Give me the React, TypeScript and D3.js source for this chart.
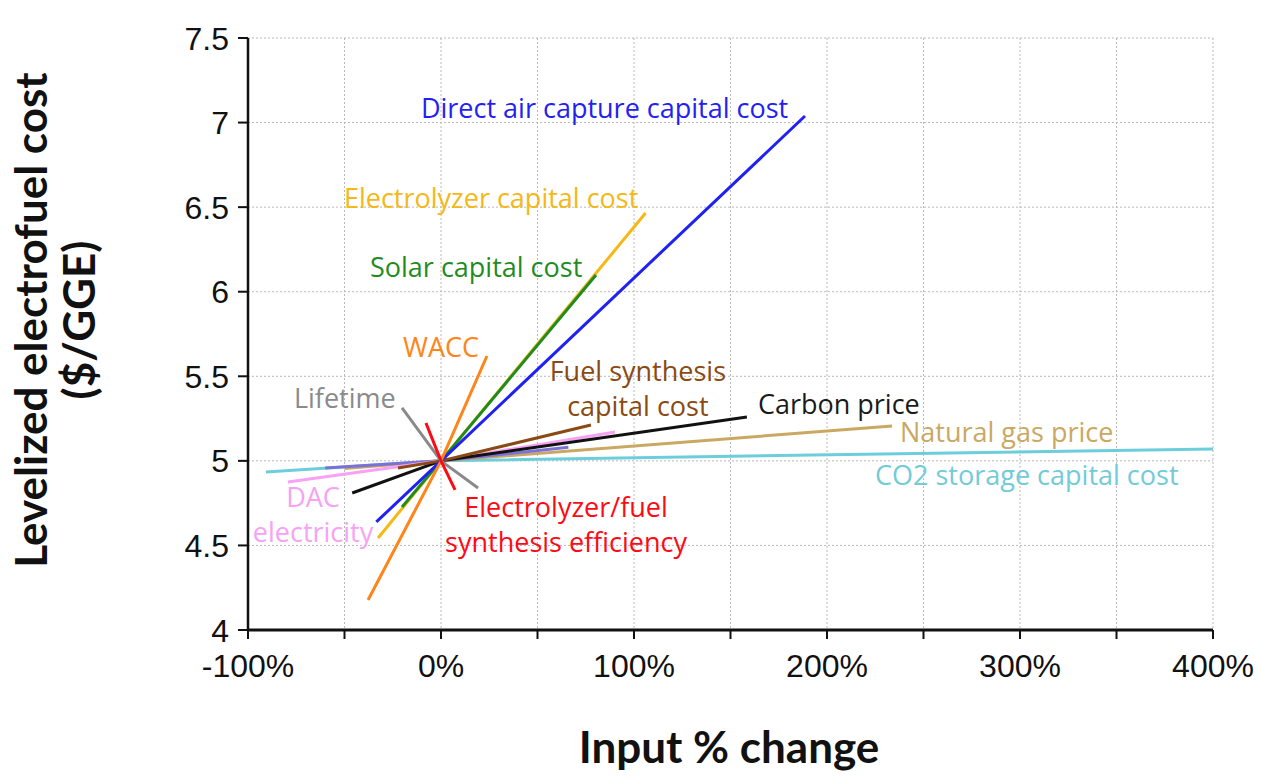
import React from "react";
import * as d3 from "d3";

// Sensitivity of levelized electrofuel cost ($/GGE) to % change of each input.
// Each series: [input % change, levelized cost]
const co2Storage: [number, number][] = [[-90.7, 4.934], [0, 5], [264, 5.047], [400, 5.07]];
const naturalGas: [number, number][] = [[-50, 4.955], [0, 5], [233.7, 5.206]];
const otherInput: [number, number][] = [[-60, 4.958], [0, 5], [66, 5.08]];
const dacElectricity: [number, number][] = [[-79.3, 4.875], [0, 5], [90.2, 5.171]];
const carbonPrice: [number, number][] = [[-46, 4.81], [0, 5], [158.5, 5.259]];
const fuelSynthesisCapital: [number, number][] = [[-22.3, 4.958], [0, 5], [77.7, 5.212]];
const electrolyzerCapital: [number, number][] = [[-32.6, 4.544], [0, 5], [106, 6.465]];
const solarCapital: [number, number][] = [[-20.2, 4.727], [0, 5], [80.3, 6.099]];
const dacCapital: [number, number][] = [[-33.5, 4.639], [0, 5], [188.6, 7.039]];
const wacc: [number, number][] = [[-37.8, 4.177], [0, 5], [23.8, 5.62]];
const lifetime: [number, number][] = [[-20.2, 5.313], [0, 5], [19.2, 4.84]];
const efficiency: [number, number][] = [[-7.8, 5.224], [0, 5], [7.3, 4.828]];

const xTicks = [-100, 0, 100, 200, 300, 400];
const xMinorTicks = [-100, -50, 0, 50, 100, 150, 200, 250, 300, 350, 400];
const yTicks = [4, 4.5, 5, 5.5, 6, 6.5, 7, 7.5];

const series = [
  { key: "co2", data: co2Storage, color: "#6ccedb" },
  { key: "gas", data: naturalGas, color: "#caa862" },
  { key: "other", data: otherInput, color: "#7b72d8" },
  { key: "dacElec", data: dacElectricity, color: "#f7a2f4" },
  { key: "carbon", data: carbonPrice, color: "#111111" },
  { key: "fuelSyn", data: fuelSynthesisCapital, color: "#8a4a14" },
  { key: "electrolyzer", data: electrolyzerCapital, color: "#f5b816" },
  { key: "solar", data: solarCapital, color: "#1f8c1f" },
  { key: "dacCap", data: dacCapital, color: "#1f22f2" },
  { key: "wacc", data: wacc, color: "#ff8419" },
  { key: "lifetime", data: lifetime, color: "#8a8a8a" },
  { key: "efficiency", data: efficiency, color: "#ff0a14" },
];

// Series labels, placed in data coordinates
const labels = [
  { lines: ["Direct air capture capital cost"], at: [-10.4, 7.027], anchor: "start", color: "#1f22f2" },
  { lines: ["Electrolyzer capital cost"], at: [-50.3, 6.495], anchor: "start", color: "#f5b816" },
  { lines: ["Solar capital cost"], at: [-36.8, 6.087], anchor: "start", color: "#1f8c1f" },
  { lines: ["WACC"], at: [-19.7, 5.614], anchor: "start", color: "#ff8419" },
  { lines: ["Lifetime"], at: [-76.2, 5.313], anchor: "start", color: "#8a8a8a" },
  { lines: ["Fuel synthesis", "capital cost"], at: [102, 5.472], anchor: "middle", color: "#8a4a14" },
  { lines: ["Carbon price"], at: [164.2, 5.277], anchor: "start", color: "#1a1a1a" },
  { lines: ["Natural gas price"], at: [237.8, 5.111], anchor: "start", color: "#caa862" },
  { lines: ["CO2 storage capital cost"], at: [224.9, 4.857], anchor: "start", color: "#72cbd8" },
  { lines: ["DAC", "electricity"], at: [-66.3, 4.727], anchor: "middle", color: "#f7a2f4" },
  { lines: ["Electrolyzer/fuel", "synthesis efficiency"], at: [64.8, 4.668], anchor: "middle", color: "#ff0a14" },
];

const W = 1261;
const H = 776;
const left = 248;
const right = 1213;
const top = 38;
const bottom = 630;

export default function App() {
  const x = d3.scaleLinear().domain([-100, 400]).range([left, right]);
  const y = d3.scaleLinear().domain([4, 7.5]).range([bottom, top]);
  const line = d3
    .line<[number, number]>()
    .x((d) => x(d[0]))
    .y((d) => y(d[1]));

  const labelFont = "'Open Sans', sans-serif";
  const lineGap = 35;

  return (
    <svg
      width={W}
      height={H}
      style={{ position: "absolute", left: 0, top: 0, background: "#fff" }}
    >
      {/* grid */}
      <g stroke="#b8b8b8" strokeWidth={1} strokeDasharray="2,2">
        {yTicks.filter((t) => t > 4).map((t) => (
          <line key={"gy" + t} x1={left} x2={right} y1={y(t)} y2={y(t)} />
        ))}
        {xMinorTicks.filter((t) => t > -100).map((t) => (
          <line key={"gx" + t} x1={x(t)} x2={x(t)} y1={top} y2={bottom} />
        ))}
      </g>

      {/* series */}
      <g fill="none" strokeWidth={3} strokeLinecap="butt" strokeLinejoin="round">
        {series.map((s) => (
          <path key={s.key} d={line(s.data) || ""} stroke={s.color} />
        ))}
      </g>

      {/* labels */}
      <g fontFamily={labelFont} fontSize={27}>
        {labels.map((l, i) => (
          <text key={i} x={x(l.at[0])} y={y(l.at[1])} textAnchor={l.anchor as any} fill={l.color}>
            {l.lines.map((t, j) => (
              <tspan key={j} x={x(l.at[0])} dy={j === 0 ? 0 : lineGap}>
                {t}
              </tspan>
            ))}
          </text>
        ))}
      </g>

      {/* axes */}
      <g stroke="#111" strokeWidth={2.5}>
        <line x1={left} x2={left} y1={top} y2={bottom} />
        <line x1={left} x2={right} y1={bottom} y2={bottom} strokeWidth={3} />
        {yTicks.map((t) => (
          <line key={"ty" + t} x1={left - 10} x2={left} y1={y(t)} y2={y(t)} strokeWidth={2} />
        ))}
        {xMinorTicks.map((t) => (
          <line key={"tx" + t} x1={x(t)} x2={x(t)} y1={bottom} y2={bottom + 9} strokeWidth={2} />
        ))}
      </g>
      <g fontFamily="'Liberation Sans', Arial, sans-serif" fontSize={32} fill="#111">
        {yTicks.map((t) => (
          <text key={"ly" + t} x={left - 19} y={y(t)} dy="0.36em" textAnchor="end">
            {d3.format("")(t)}
          </text>
        ))}
        {xTicks.map((t) => (
          <text key={"lx" + t} x={x(t)} y={677} textAnchor="middle">
            {t + "%"}
          </text>
        ))}
      </g>

      {/* axis titles */}
      <text
        x={729}
        y={763}
        textAnchor="middle"
        fontFamily="Lato, sans-serif"
        fontWeight="bold"
        fontSize={44}
        fill="#111"
      >
        Input % change
      </text>
      <g transform={`translate(47, 320) rotate(-90)`}>
        <text
          textAnchor="middle"
          fontFamily="Lato, sans-serif"
          fontWeight="bold"
          fontSize={44}
          fill="#111"
        >
          <tspan x={0} dy={0}>Levelized electrofuel cost</tspan>
          <tspan x={0} dy={48}>($/GGE)</tspan>
        </text>
      </g>
    </svg>
  );
}
